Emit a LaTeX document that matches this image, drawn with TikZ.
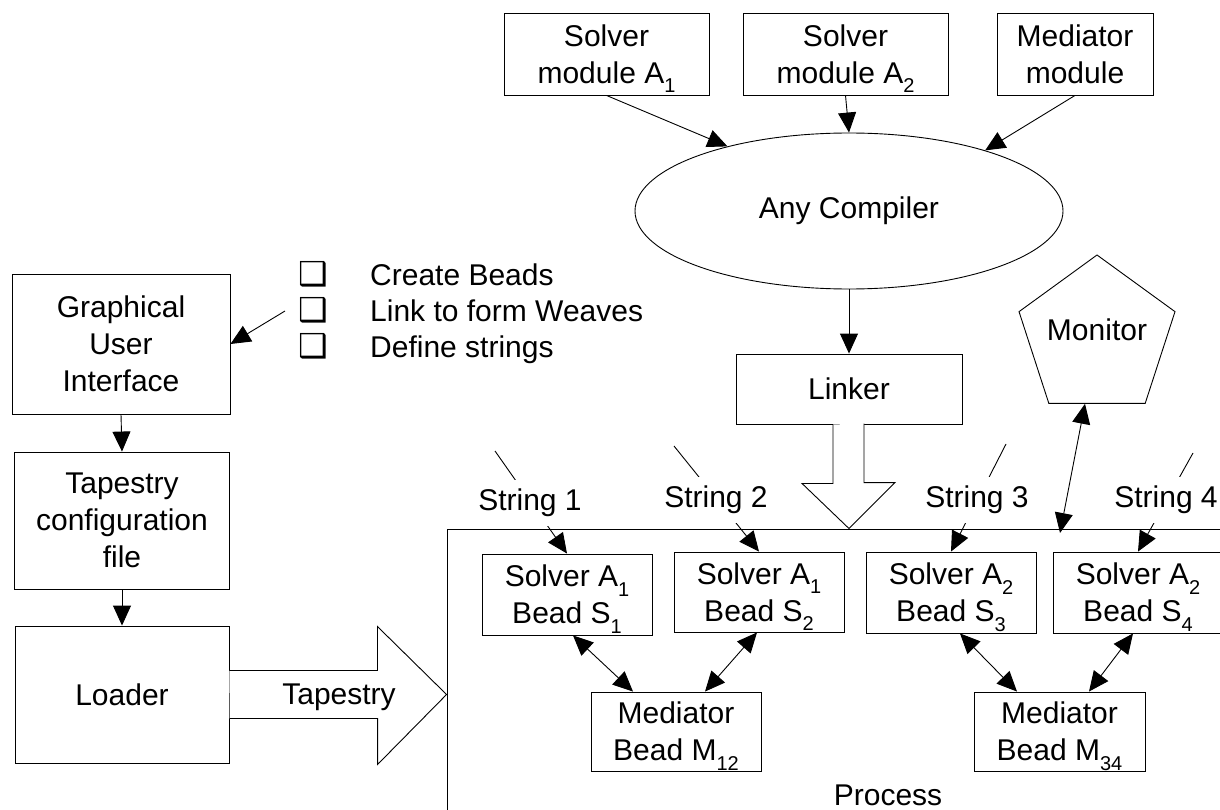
\documentclass[tikz,border=0pt]{standalone}
\usepackage{fontspec}
\setmainfont{Liberation Sans}
\newfontfamily\symfont{DejaVu Sans}
\usetikzlibrary{arrows.meta,shapes.geometric,calc}
\newcommand\sbs[1]{\raisebox{-9.5pt}[0pt][0pt]{\fontsize{20}{20}\selectfont #1}}
\begin{document}
\begin{tikzpicture}[x=1pt,y=-1pt,
  lab/.style={font=\fontsize{30}{37}\selectfont, align=center},
  box/.style={lab, draw, rectangle, inner sep=0pt, line width=0.9pt},
  arr/.style={-{Triangle[length=20pt,width=18pt]}, line width=0.9pt},
  darr/.style={{Triangle[length=20pt,width=18pt]}-{Triangle[length=20pt,width=18pt]}, line width=0.9pt},
  strlab/.style={lab, fill=white, inner sep=9pt},
  fat/.style={draw, fill=white, line width=0.9pt, line join=miter},
  bul/.style={font=\symfont\fontsize{33}{33}\selectfont, anchor=base, inner sep=0pt},
  itm/.style={lab, anchor=base west, inner sep=0pt},
]
\useasboundingbox (0,0) rectangle (1220,810);
\clip (0,0) rectangle (1220,810);

% process frame
\node[draw, rectangle, minimum width=813pt, minimum height=331pt, inner sep=0pt, line width=0.9pt] (proc) at (853.5,694.5) {};
\node[lab, anchor=base] (procl) at (888,805) {Process};

% top modules
\node[box, minimum width=205pt, minimum height=82pt] (a1) at (606.5,54) {Solver\\module A\sbs{1}};
\node[box, minimum width=205pt, minimum height=82pt] (a2) at (845.5,54) {Solver\\module A\sbs{2}};
\node[box, minimum width=156pt, minimum height=82pt] (med) at (1075,54) {Mediator\\module};

\node[lab, draw, ellipse, minimum width=428pt, minimum height=156pt, inner sep=0pt, line width=0.9pt] (comp) at (849,211) {Any Compiler};
\node[box, minimum width=226pt, minimum height=70pt] (lnk) at (849,389) {Linker};

\node[draw, regular polygon, regular polygon sides=5, minimum size=164pt, inner sep=0pt, line width=0.9pt] (mon) at (1097,337) {};
\node[lab] (monl) at (1097,330) {Monitor};

% left column
\node[box, minimum width=218pt, minimum height=140pt] (gui) at (121,344) {Graphical\\User\\Interface};
\node[box, minimum width=215pt, minimum height=137pt] (cfg) at (122,520.5) {Tapestry\\configuration\\file};
\node[box, minimum width=214pt, minimum height=137pt] (ldr) at (122,694.5) {Loader};

% bullet list
\node[bul] (b1) at (313,285) {❑};
\node[bul] (b2) at (313,321) {❑};
\node[bul] (b3) at (313,357) {❑};
\node[itm] (t1) at (370,285) {Create Beads};
\node[itm] (t2) at (370,321) {Link to form Weaves};
\node[itm] (t3) at (370,357) {Define strings};
\coordinate (g0) at (285,311);

% beads
\node[box, minimum width=170pt, minimum height=81pt] (s1) at (567,594.5) {Solver A\sbs{1}\\Bead S\sbs{1}};
\node[box, minimum width=170pt, minimum height=80pt] (s2) at (759,592) {Solver A\sbs{1}\\Bead S\sbs{2}};
\node[box, minimum width=170pt, minimum height=81pt] (s3) at (951,592.5) {Solver A\sbs{2}\\Bead S\sbs{3}};
\node[box, minimum width=170pt, minimum height=81pt] (s4) at (1138,592.5) {Solver A\sbs{2}\\Bead S\sbs{4}};
\node[box, minimum width=170pt, minimum height=79pt] (m12) at (676,731.5) {Mediator\\Bead M\sbs{12}};
\node[box, minimum width=171pt, minimum height=79pt] (m34) at (1059.5,731.5) {Mediator\\Bead M\sbs{34}};

% connectors
\draw[arr] (a1.south) -- (comp.152);
\draw[arr] (a2.south) -- (comp.north);
\draw[arr] (med.south) -- (comp.24);
\draw[arr] (comp.south) -- (lnk.north);
\draw[arr] (g0) -- (gui.east);
\draw[arr] (gui.south) -- (cfg.north);
\draw[arr] (cfg.south) -- (ldr.north);

\draw[darr] ([xshift=6pt]s1.south) -- ([xshift=-43pt]m12.north);
\draw[darr] ([xshift=-2pt]s2.south) -- ([xshift=29pt]m12.north);
\draw[darr] ([xshift=9pt]s3.south) -- ([xshift=-42.5pt]m34.north);
\draw[darr] ([xshift=-5pt]s4.south) -- ([xshift=29.5pt]m34.north);

\coordinate (mp) at (1060,533);
\draw[darr] ([xshift=-12pt]mon.south) -- (mp);

% fat arrows
\draw[fat] ([xshift=-16pt]lnk.south) -- ++(0,59) -- ++(-31,0) -- (lnk.south |- proc.north) -- ++(46,-46) -- ++(-31,0) -- ++(0,-59);
\draw[fat] ([yshift=24pt]ldr.east) -- ++(148,0) -- ++(0,-44) -- (ldr.east -| proc.west) -- ++(-69,70) -- ++(0,-46) -- ++(-148,0);
\node[lab] (tapl) at (339,697) {Tapestry};

% strings
\coordinate (u1) at (495,451);
\coordinate (u2) at (674,446);
\coordinate (u3) at (1006,444);
\coordinate (u4) at (1193,453);
\draw[arr] (u1) -- (s1.north);
\draw[arr] (u2) -- (s2.north);
\draw[arr] (u3) -- (s3.north);
\draw[arr] (u4) -- (s4.north);
\node[strlab] (str1) at (530,503) {String 1};
\node[strlab] (str2) at (716,500) {String 2};
\node[strlab] (str3) at (977,500) {String 3};
\node[strlab] (str4) at (1166,500) {String 4};
\end{tikzpicture}
\end{document}
